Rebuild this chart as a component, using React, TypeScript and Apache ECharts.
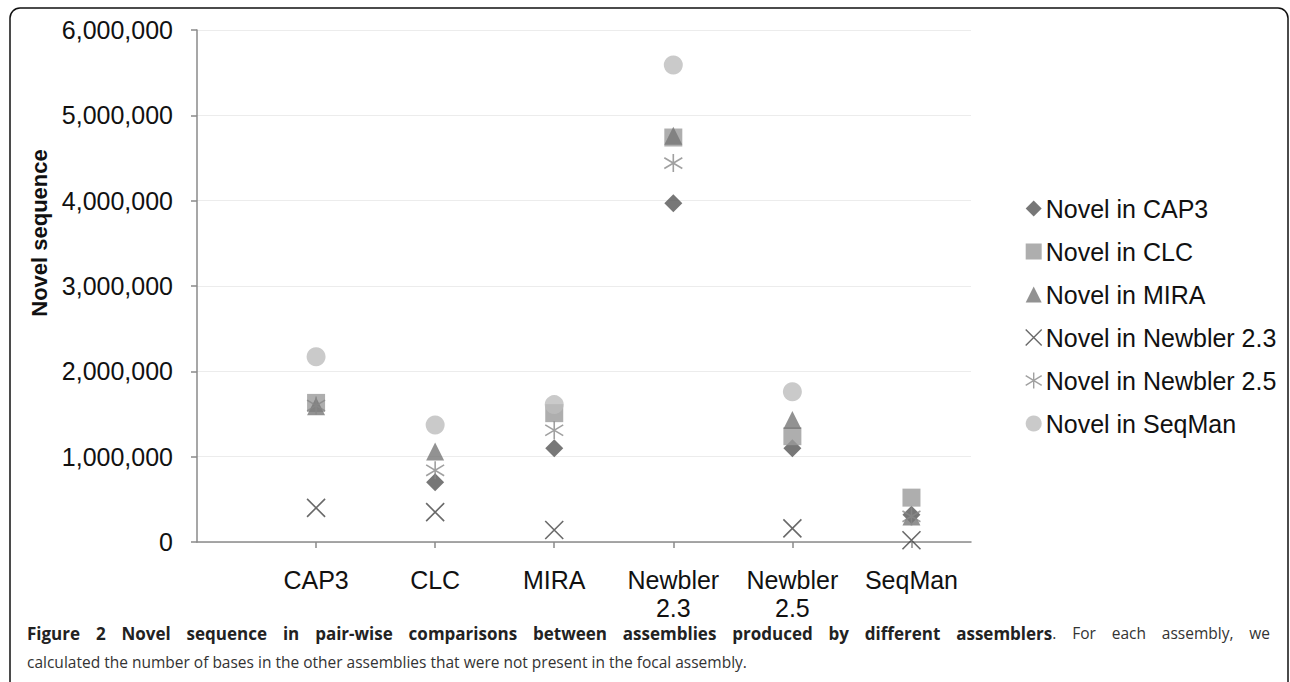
import React, { useEffect, useRef } from "react";
import * as echarts from "echarts";

const categories = ["CAP3", "CLC", "MIRA", "Newbler\n2.3", "Newbler\n2.5", "SeqMan"];
const yTicks = [0, 1000000, 2000000, 3000000, 4000000, 5000000, 6000000];

const seriesNames = [
  "Novel in CAP3",
  "Novel in CLC",
  "Novel in MIRA",
  "Novel in Newbler 2.3",
  "Novel in Newbler 2.5",
  "Novel in SeqMan",
];

const novelInCAP3 = [null, 700000, 1100000, 3970000, 1100000, 320000];
const novelInCLC = [1630000, null, 1510000, 4740000, 1240000, 520000];
const novelInMIRA = [1590000, 1060000, null, 4760000, 1430000, 300000];
const novelInNewbler23 = [400000, 350000, 140000, null, 160000, 20000];
const novelInNewbler25 = [1600000, 840000, 1310000, 4440000, null, 300000];
const novelInSeqMan = [2170000, 1370000, 1610000, 5590000, 1760000, null];

const caption1Bold =
  "Figure 2 Novel sequence in pair-wise comparisons between assemblies produced by different assemblers";
const caption1Normal = ". For each assembly, we";
const caption2 =
  "calculated the number of bases in the other assemblies that were not present in the focal assembly.";

const X_PATH = "path://M0,0L10,10M10,0L0,10";
const AST_PATH = "path://M5,0L5,10M0,2L10,8M10,2L0,8";

const CAP_FONT = "'Open Sans', sans-serif";
const CAP_SIZE = 15.5;
const CAP_BOLD_SIZE = 17;

function justifiedLine(y: number, left: number, right: number) {
  const canvas = document.createElement("canvas");
  const ctx = canvas.getContext("2d")!;
  const boldWords = caption1Bold.split(" ");
  const normalWords = caption1Normal.trim().split(" ");
  const tokens: { parts: { t: string; bold: boolean }[] }[] = [];
  boldWords.forEach((w, i) => {
    if (i === boldWords.length - 1) {
      tokens.push({ parts: [{ t: w, bold: true }, { t: normalWords[0], bold: false }] });
    } else tokens.push({ parts: [{ t: w, bold: true }] });
  });
  normalWords.slice(1).forEach((w) => tokens.push({ parts: [{ t: w, bold: false }] }));
  const measure = (t: string, bold: boolean) => {
    ctx.font = (bold ? "bold " + CAP_BOLD_SIZE : CAP_SIZE) + "px " + CAP_FONT;
    return ctx.measureText(t).width;
  };
  const widths = tokens.map((tk) => tk.parts.reduce((s, p) => s + measure(p.t, p.bold), 0));
  const total = widths.reduce((a, b) => a + b, 0);
  const gap = (right - left - total) / (tokens.length - 1);
  const els: any[] = [];
  let x = left;
  tokens.forEach((tk, i) => {
    const text = tk.parts.map((p) => (p.bold ? "{b|" + p.t + "}" : "{n|" + p.t + "}")).join("");
    els.push({
      type: "text",
      x,
      y,
      style: {
        text,
        verticalAlign: "middle",
        rich: {
          b: { fontFamily: CAP_FONT, fontWeight: "bold", fontSize: CAP_BOLD_SIZE, fill: "#222222" },
          n: { fontFamily: CAP_FONT, fontSize: CAP_SIZE, fill: "#333333" },
        },
      },
    });
    x += widths[i] + gap;
  });
  return els;
}

export default function App() {
  const ref = useRef<HTMLDivElement>(null);

  useEffect(() => {
    if (!ref.current) return;
    const chart = echarts.init(ref.current, null, { renderer: "svg" });
    const font = "Arial, 'Liberation Sans', Helvetica, sans-serif";

    const allValues = [
      novelInCAP3,
      novelInCLC,
      novelInMIRA,
      novelInNewbler23,
      novelInNewbler25,
      novelInSeqMan,
    ];
    const symbols = ["diamond", "rect", "triangle", X_PATH, AST_PATH, "circle"];
    const colors = ["#555555", "#9a9a9a", "#777777", "#444444", "#888888", "#bdbdbd"];
    const stroked = [false, false, false, true, true, false];

    const series = allValues.map((vals, si) => ({
      type: "scatter",
      name: seriesNames[si],
      symbol: symbols[si],
      symbolSize: si === 5 ? 19 : 18,
      itemStyle: stroked[si]
        ? { color: "rgba(0,0,0,0)", borderColor: colors[si], borderWidth: 1.6 }
        : { color: colors[si] },
      emphasis: { disabled: true },
      data: vals
        .map((v, i) => (v === null ? null : [i + 1, v]))
        .filter((d) => d !== null),
    }));

    chart.setOption({
      animation: false,
      backgroundColor: "#ffffff",
      grid: { left: 197, right: 319, top: 30, bottom: 140, containLabel: false },
      xAxis: {
        type: "value",
        min: 0,
        max: 6.5,
        interval: 1,
        splitLine: { show: false },
        axisLine: { show: true, lineStyle: { color: "#8a8a8a", width: 1.5 } },
        axisTick: {
          show: true,
          length: 6,
          inside: false,
          customValues: [1, 2, 3, 4, 5, 6],
          lineStyle: { color: "#8a8a8a", width: 1.5 },
        },
        axisLabel: {
          customValues: [1, 2, 3, 4, 5, 6],
          formatter: (v: number) => categories[Math.round(v) - 1] ?? "",
          fontFamily: font,
          fontSize: 25,
          lineHeight: 28,
          color: "#111111",
          margin: 24,
        },
      },
      yAxis: {
        type: "value",
        min: 0,
        max: 6000000,
        interval: 1000000,
        axisLine: { show: true, lineStyle: { color: "#8a8a8a", width: 1.5 } },
        axisTick: { show: true, length: 6, inside: false, lineStyle: { color: "#8a8a8a", width: 1.5 } },
        splitLine: { show: true, lineStyle: { color: "#ececec", width: 1 } },
        axisLabel: {
          customValues: yTicks,
          formatter: (v: number) => v.toLocaleString("en-US"),
          fontFamily: font,
          fontSize: 25,
          color: "#111111",
          margin: 24,
        },
      },
      legend: {
        orient: "vertical",
        left: 1020,
        top: 191,
        itemWidth: 16,
        itemHeight: 16,
        itemGap: 18,
        selectedMode: false,
        textStyle: { fontFamily: font, fontSize: 25, color: "#111111", padding: [0, 0, 0, -1] },
        data: seriesNames.map((n, i) => ({
          name: n,
          icon: symbols[i],
          itemStyle: stroked[i] ? { borderWidth: 1.4 } : undefined,
        })),
      },
      graphic: [
        {
          type: "rect",
          shape: { x: 10, y: 8, width: 1278, height: 720, r: 10 },
          style: { fill: "none", stroke: "#111111", lineWidth: 1.5 },
          silent: true,
        },
        {
          type: "text",
          x: 39,
          y: 233,
          rotation: Math.PI / 2,
          style: {
            text: "Novel sequence",
            fontFamily: font,
            fontWeight: "bold",
            fontSize: 22,
            fill: "#111111",
            align: "center",
            verticalAlign: "middle",
          },
        },
        ...justifiedLine(633, 27, 1270),
        {
          type: "text",
          x: 27,
          y: 662,
          style: {
            text: caption2,
            fontFamily: CAP_FONT,
            fontSize: CAP_SIZE,
            fill: "#333333",
            verticalAlign: "middle",
          },
        },
      ],
      series,
    });

    return () => chart.dispose();
  }, []);

  return (
    <div
      ref={ref}
      style={{ position: "absolute", left: 0, top: 0, width: 1290, height: 682, background: "#fff" }}
    />
  );
}
